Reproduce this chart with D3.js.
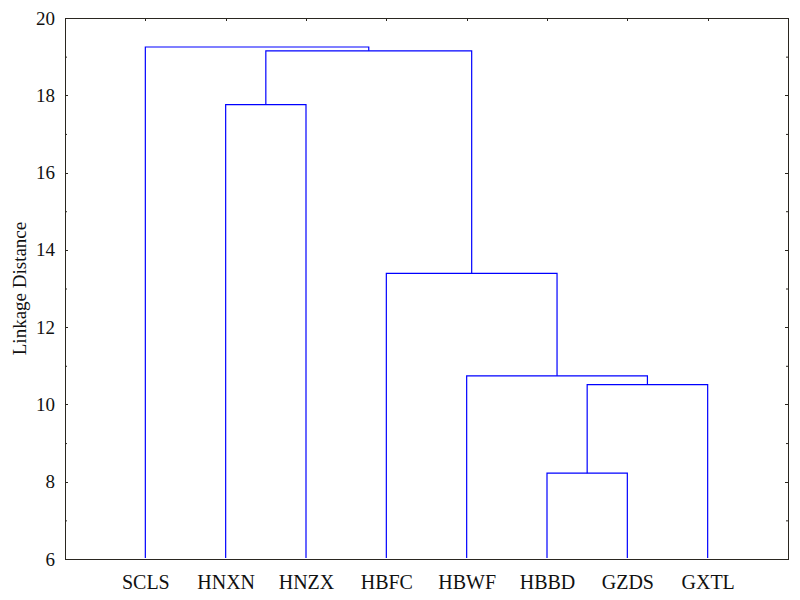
<!DOCTYPE html>
<html>
<head>
<meta charset="utf-8">
<script src="https://cdn.jsdelivr.net/npm/d3@7"></script>
<style>
  body { margin: 0; background: #fff; }
  svg { display: block; }
  svg text { font-family: "Liberation Serif", "Times New Roman", serif !important; fill: #111; }
</style>
</head>
<body>
<svg id="chart" width="800" height="600"></svg>
<script>
// Leaves (left to right)
const leaves = ["SCLS", "HNXN", "HNZX", "HBFC", "HBWF", "HBBD", "GZDS", "GXTL"];
// Merges: [left node id, right node id, linkage distance]; new node ids start at leaves.length
const mergeLeft   = [5, 8, 4, 3, 1, 12, 0];
const mergeRight  = [6, 7, 9, 10, 2, 11, 13];
const mergeHeight = [8.22, 10.51, 10.74, 13.39, 17.76, 19.15, 19.25];
// Y axis ticks
const yMajorTicks = [6, 8, 10, 12, 14, 16, 18, 20];
const yMinorTicks = [7, 9, 11, 13, 15, 17, 19];
const yLabel = "Linkage Distance";

(function () {
const W = 800, H = 600;
const margin = { left: 65, right: 12, top: 18, bottom: 41 };
const svg = d3.select("#chart");

const x = d3.scaleLinear().domain([0, leaves.length + 1]).range([margin.left, W - margin.right]);
const y = d3.scaleLinear().domain([6, 20]).range([H - margin.bottom, margin.top]);

// Node positions
const nodes = leaves.map((name, i) => ({ pos: i + 1, h: 6 }));
const links = [];
mergeHeight.forEach((h, k) => {
  const a = nodes[mergeLeft[k]], b = nodes[mergeRight[k]];
  links.push({ a, b, h });
  nodes.push({ pos: (a.pos + b.pos) / 2, h });
});

const axisColor = "#2a2620";
const leafPos = leaves.map((_, i) => i + 1);
const fontCss = "'Liberation Serif', 'Times New Roman', serif";

function styleAxis(sel) {
  sel.attr("font-family", null);
  sel.select(".domain").attr("stroke", axisColor).attr("shape-rendering", "crispEdges");
  sel.selectAll(".tick line").attr("stroke", axisColor).attr("shape-rendering", "crispEdges");
}

// Left axis
const leftAx = svg.append("g").attr("transform", `translate(${margin.left},0)`)
  .call(d3.axisLeft(y).tickValues(yMajorTicks).tickSizeInner(-3).tickSizeOuter(0).tickPadding(10).tickFormat(d3.format("d")));
styleAxis(leftAx);
leftAx.selectAll("text").style("font-size", "19px").style("font-family", fontCss).attr("fill", "#111");
svg.append("g").attr("transform", `translate(${margin.left},0)`)
  .call(d3.axisLeft(y).tickValues(yMinorTicks).tickSizeInner(-2).tickSizeOuter(0).tickFormat(""))
  .call(s => { s.select(".domain").remove(); s.selectAll("line").attr("stroke", axisColor); });

// Right axis
const rightAx = svg.append("g").attr("transform", `translate(${W - margin.right},0)`)
  .call(d3.axisRight(y).tickValues(yMajorTicks).tickSizeInner(-3).tickSizeOuter(0).tickFormat(""));
styleAxis(rightAx);
svg.append("g").attr("transform", `translate(${W - margin.right},0)`)
  .call(d3.axisRight(y).tickValues(yMinorTicks).tickSizeInner(-2).tickSizeOuter(0).tickFormat(""))
  .call(s => { s.select(".domain").remove(); s.selectAll("line").attr("stroke", axisColor); });

// Top axis
const topAx = svg.append("g").attr("transform", `translate(0,${margin.top})`)
  .call(d3.axisTop(x).tickValues(leafPos).tickSizeInner(-3).tickSizeOuter(0).tickFormat(""));
styleAxis(topAx);

// Bottom axis
const bottomAx = svg.append("g").attr("transform", `translate(0,${H - margin.bottom})`)
  .call(d3.axisBottom(x).tickValues(leafPos).tickSizeInner(0).tickSizeOuter(0).tickPadding(16)
    .tickFormat(d => leaves[d - 1]));
styleAxis(bottomAx);
bottomAx.selectAll("text").style("font-size", "20px").style("font-family", fontCss).attr("fill", "#111");

// Dendrogram links (drawn over the frame)
svg.append("g").selectAll("path.link").data(links).join("path")
  .attr("class", "link")
  .attr("fill", "none")
  .attr("stroke", "#0000ff")
  .attr("stroke-width", 1.2)
  .attr("d", d => `M${x(d.a.pos)},${y(d.a.h) - (d.a.h === 6 ? 1 : 0)}V${y(d.h)}H${x(d.b.pos)}V${y(d.b.h) - (d.b.h === 6 ? 1 : 0)}`);

// Y label
svg.append("text")
  .attr("transform", `translate(26,${(margin.top + H - margin.bottom) / 2}) rotate(-90)`)
  .attr("text-anchor", "middle")
  .style("font-size", "19px")
  .style("font-family", fontCss)
  .text(yLabel);
})();
</script>
</body>
</html>
